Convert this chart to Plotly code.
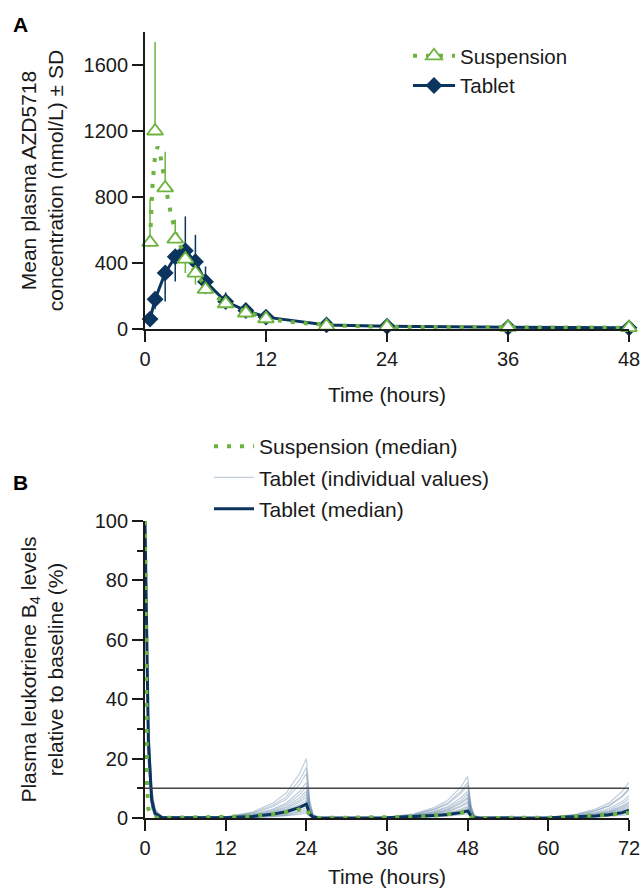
import plotly.graph_objects as go

# ---------------- Panel A data ----------------
pk_time = [0.5, 1, 2, 3, 4, 5, 6, 8, 10, 12, 18, 24, 36, 48]
susp_mean = [525, 1200, 855, 545, 424, 339, 240, 153, 97, 62, 18, 14, 10, 8]
susp_sd_up = [265, 540, 220, 117, 0, 0, 0, 0, 0, 0, 0, 0, 0, 0]
susp_sd_down = [0, 0, 0, 0, 85, 70, 30, 15, 0, 0, 0, 0, 0, 0]
tab_mean = [60, 180, 340, 438, 475, 408, 287, 166, 112, 72, 25, 17, 10, 7]
tab_sd_up = [0, 0, 0, 0, 207, 163, 92, 56, 20, 10, 0, 0, 0, 0]
tab_sd_down = [25, 60, 174, 150, 0, 0, 0, 0, 0, 0, 0, 0, 0, 0]

susp_curve_time = [0.5, 0.6, 0.75, 1, 1.25, 1.5, 1.75, 2, 2.25, 2.5, 2.75, 3, 3.5, 4, 5, 6, 7, 8,
                   9.5, 11, 12, 13.3, 14.5, 16, 18, 20, 22, 24, 30, 36, 42, 48]
susp_curve = [540, 700, 880, 1050, 1105, 1060, 960, 870, 795, 720, 645, 590, 505, 445, 340, 260, 195, 160,
              117, 86, 72, 52, 42, 33, 25, 19, 15, 13, 11, 10, 9, 8]

# ---------------- Panel B data ----------------
pd_time = [0, 0.25, 0.5, 1, 1.5, 2.5, 12, 16, 19, 21, 23, 24, 24.5, 25, 26,
           36, 40, 43, 45, 47, 48, 48.5, 49, 50, 60, 64, 67, 69, 71, 72]

tablet_individuals = [
    [100, 68, 35, 10, 3, 0.5, 0.4, 2, 5, 8.4, 15, 20, 6, 1.2, 0.1, 0.3, 1.4, 3.5, 5.9, 10.5, 14, 4.2, 0.8, 0.1, 0.2, 1.2, 3, 5, 9, 12],
    [100, 66, 33, 9, 2.6, 0.4, 0.3, 1.7, 4.3, 7.1, 12.8, 17, 5.1, 1, 0.1, 0.2, 1.2, 3, 5, 9, 12, 3.6, 0.7, 0.1, 0.2, 1, 2.5, 4.2, 7.5, 10],
    [100, 65, 31, 8, 2.3, 0.3, 0.3, 1.5, 3.8, 6.3, 11.3, 15, 4.5, 0.9, 0.1, 0.2, 1.1, 2.8, 4.6, 8.3, 11, 3.3, 0.7, 0.1, 0.2, 1, 2.4, 4, 7.1, 9.5],
    [100, 63, 29, 7.5, 2, 0.3, 0.2, 1.2, 3, 5, 9, 12, 3.6, 0.7, 0.1, 0.2, 0.9, 2.3, 3.8, 6.8, 9, 2.7, 0.5, 0, 0.2, 0.8, 1.9, 3.2, 5.6, 7.5],
    [100, 62, 28, 7, 1.8, 0.2, 0.2, 1.1, 2.6, 4.4, 7.9, 10.5, 3.2, 0.6, 0, 0.2, 0.8, 2, 3.4, 6, 8, 2.4, 0.5, 0, 0.1, 0.7, 1.6, 2.7, 4.9, 6.5],
    [100, 61, 27, 6.5, 1.6, 0.2, 0.2, 0.9, 2.3, 3.8, 6.8, 9, 2.7, 0.5, 0, 0.1, 0.7, 1.8, 2.9, 5.3, 7, 2.1, 0.4, 0, 0.1, 0.6, 1.4, 2.3, 4.1, 5.5],
    [100, 60, 26, 6, 1.5, 0.2, 0.2, 0.8, 2, 3.4, 6, 8, 2.4, 0.5, 0, 0.1, 0.7, 1.6, 2.7, 4.9, 6.5, 2, 0.4, 0, 0.1, 0.5, 1.3, 2.1, 3.8, 5],
    [100, 59, 25, 5.5, 1.4, 0.2, 0.1, 0.7, 1.8, 2.9, 5.3, 7, 2.1, 0.4, 0, 0.1, 0.6, 1.4, 2.3, 4.1, 5.5, 1.7, 0.3, 0, 0.1, 0.5, 1.1, 1.9, 3.4, 4.5],
    [100, 58, 24, 5, 1.3, 0.1, 0.1, 0.6, 1.5, 2.5, 4.5, 6, 1.8, 0.4, 0, 0.1, 0.5, 1.3, 2.1, 3.8, 5, 1.5, 0.3, 0, 0.1, 0.4, 1, 1.7, 3, 4],
    [100, 57, 23, 4.5, 1.2, 0.1, 0.1, 0.5, 1.3, 2.1, 3.8, 5, 1.5, 0.3, 0, 0.1, 0.4, 1, 1.7, 3, 4, 1.2, 0.2, 0, 0.1, 0.4, 0.9, 1.5, 2.6, 3.5],
    [100, 56, 22, 4.2, 1.1, 0.1, 0.1, 0.4, 1.1, 1.8, 3.2, 4.2, 1.3, 0.3, 0, 0.1, 0.4, 0.9, 1.5, 2.6, 3.5, 1.1, 0.2, 0, 0.1, 0.3, 0.8, 1.3, 2.3, 3],
    [100, 55, 21, 4, 1, 0.1, 0.1, 0.4, 0.9, 1.5, 2.6, 3.5, 1.1, 0.2, 0, 0.1, 0.3, 0.8, 1.3, 2.3, 3, 0.9, 0.2, 0, 0.1, 0.3, 0.6, 1.1, 1.9, 2.5],
    [100, 54, 20, 3.8, 0.9, 0.1, 0.1, 0.3, 0.7, 1.2, 2.1, 2.8, 0.8, 0.2, 0, 0, 0.3, 0.6, 1.1, 1.9, 2.5, 0.8, 0.2, 0, 0, 0.2, 0.5, 0.8, 1.5, 2],
    [100, 53, 19, 3.5, 0.8, 0.1, 0, 0.2, 0.6, 0.9, 1.7, 2.2, 0.7, 0.1, 0, 0, 0.2, 0.5, 0.8, 1.5, 2, 0.6, 0.1, 0, 0, 0.2, 0.5, 0.8, 1.4, 1.8],
    [100, 52, 18, 3.2, 0.7, 0.1, 0, 0.2, 0.4, 0.7, 1.2, 1.6, 0.5, 0.1, 0, 0, 0.1, 0.4, 0.6, 1.1, 1.4, 0.4, 0.1, 0, 0, 0.1, 0.3, 0.5, 0.9, 1.2],
]
tablet_median = [100, 60, 26, 6, 1.5, 0.2, 0.1, 0.5, 1.3, 2.1, 3.6, 4.7, 1.4, 0.3, 0,
                 0.1, 0.4, 0.8, 1.2, 1.8, 2.4, 0.7, 0.1, 0, 0.1, 0.3, 0.7, 1.1, 1.8, 2.6]

susp_pd_time = [0, 0.1, 0.2, 0.3, 0.5, 1, 2, 12, 14.4, 16.3, 18.2, 20, 22, 23, 24, 24.5, 25, 26,
                36, 40, 43, 45, 47, 48, 48.5, 49, 50, 60, 64, 67, 69, 71, 72]
susp_median = [100, 70, 35, 12, 3, 0.5, 0, 0.2, 0.5, 0.7, 1.0, 1.6, 2.4, 2.9, 3.4, 1, 0.2, 0,
               0.1, 0.4, 0.8, 1.2, 1.8, 2.2, 0.6, 0.1, 0, 0.1, 0.4, 0.8, 1.1, 1.5, 1.8]
threshold = 10

# ---------------- Styling ----------------
GREEN = "#6db33f"
NAVY = "#0b355e"
IND = "rgba(70,110,150,0.33)"
INK = "#1a1a1a"
FONT = "Arial, Liberation Sans, sans-serif"
DOTS = "4px,9px"

W, H = 643, 888
L, R, T, B = 145, 14, 32, 70
PW, PH = W - L - R, H - T - B


def px(xs, ys):
    """screen pixel -> paper coords"""
    return (xs - L) / PW, (H - B - ys) / PH


TRI = dict(symbol="triangle-up", size=14, color="white", line=dict(width=1.8, color=GREEN))

fig = go.Figure()

# ---- Panel A traces (tablet under suspension) ----
fig.add_trace(go.Scatter(
    x=pk_time, y=tab_mean, mode="lines+markers", name="Tablet",
    line=dict(color=NAVY, width=3),
    marker=dict(symbol="diamond", size=13, color=NAVY),
    error_y=dict(type="data", symmetric=False, array=tab_sd_up, arrayminus=tab_sd_down,
                 color=NAVY, thickness=1.5, width=0),
    xaxis="x", yaxis="y", legend="legend", legendgroup="tab", legendrank=2, cliponaxis=False))
fig.add_trace(go.Scatter(
    x=susp_curve_time, y=susp_curve, mode="lines", showlegend=False,
    line=dict(color=GREEN, width=4, dash=DOTS), xaxis="x", yaxis="y", cliponaxis=False))
fig.add_trace(go.Scatter(
    x=pk_time, y=susp_mean, mode="markers", showlegend=False, marker=TRI,
    error_y=dict(type="data", symmetric=False, array=susp_sd_up, arrayminus=susp_sd_down,
                 color=GREEN, thickness=1.5, width=0),
    xaxis="x", yaxis="y", cliponaxis=False))
fig.add_trace(go.Scatter(
    x=[None], y=[None], mode="lines+markers", name="Suspension",
    line=dict(color=GREEN, width=4, dash=DOTS), marker=TRI,
    xaxis="x", yaxis="y", legend="legend", legendgroup="susp", legendrank=1))

# ---- Panel B traces ----
for i, vals in enumerate(tablet_individuals):
    fig.add_trace(go.Scatter(
        x=pd_time, y=vals, mode="lines", name="Tablet (individual values)",
        line=dict(color=IND, width=1.2), showlegend=(i == 0),
        legendgroup="ind", legendrank=2, legend="legend2", xaxis="x2", yaxis="y2", cliponaxis=False))
fig.add_trace(go.Scatter(
    x=pd_time, y=tablet_median, mode="lines", name="Tablet (median)",
    line=dict(color=NAVY, width=3), legendgroup="tmed", legendrank=3, legend="legend2",
    xaxis="x2", yaxis="y2", cliponaxis=False))
fig.add_trace(go.Scatter(
    x=susp_pd_time, y=susp_median, mode="lines", name="Suspension (median)",
    line=dict(color=GREEN, width=4, dash=DOTS), legendgroup="smed", legendrank=1, legend="legend2",
    xaxis="x2", yaxis="y2", cliponaxis=False))

fig.add_shape(type="line", xref="x2", yref="y2", x0=0, x1=72, y0=threshold, y1=threshold,
              line=dict(color="#444444", width=1.5))

axis_common = dict(showline=True, linecolor=INK, linewidth=1.8, ticks="outside", ticklen=11,
                   tickwidth=1.8, tickcolor=INK, showgrid=False, zeroline=False,
                   tickfont=dict(size=20, color=INK, family=FONT), automargin=False)

yA_bottom = px(0, 329)[1]
yB_top = px(0, 521)[1]
legA_x, legA_y = px(408, 36)
legB_x, legB_y = px(209, 426)
labA = px(20, 25)
labB = px(20, 483)

fig.update_layout(
    width=W, height=H,
    margin=dict(l=L, r=R, t=T, b=B),
    paper_bgcolor="white", plot_bgcolor="white",
    font=dict(family=FONT, size=20, color=INK),
    xaxis=dict(domain=[0, 1], range=[0, 48], tickvals=[0, 12, 24, 36, 48], anchor="y",
               title=dict(text="Time (hours)", font=dict(size=21), standoff=18), **axis_common),
    yaxis=dict(domain=[yA_bottom, 1], range=[0, 1800],
               tickvals=[0, 400, 800, 1200, 1600], anchor="x",
               title=dict(text="Mean plasma AZD5718<br>concentration (nmol/L) ± SD",
                          font=dict(size=21), standoff=14), **axis_common),
    xaxis2=dict(domain=[0, 1], range=[0, 72], tickvals=[0, 12, 24, 36, 48, 60, 72], anchor="y2",
                title=dict(text="Time (hours)", font=dict(size=21), standoff=28), **axis_common),
    yaxis2=dict(domain=[0, yB_top], range=[0, 100],
                tickvals=[0, 20, 40, 60, 80, 100], anchor="x2",
                minor=dict(tickvals=[10, 30, 50, 70, 90], ticks="outside", ticklen=6,
                           tickwidth=1.8, tickcolor=INK),
                title=dict(text="Plasma leukotriene B<sub>4</sub> levels<br>relative to baseline (%)",
                           font=dict(size=21), standoff=25), **axis_common),
    legend=dict(x=legA_x, y=legA_y, xanchor="left", yanchor="top", itemwidth=42,
                traceorder="grouped", tracegroupgap=0, bgcolor="rgba(0,0,0,0)",
                font=dict(size=20.5, color=INK, family=FONT)),
    legend2=dict(x=legB_x, y=legB_y, xanchor="left", yanchor="top", itemwidth=40,
                 traceorder="grouped", tracegroupgap=1, bgcolor="rgba(0,0,0,0)",
                 font=dict(size=21, color=INK, family=FONT)),
    annotations=[
        dict(text="<b>A</b>", x=labA[0], y=labA[1], xref="paper", yref="paper", showarrow=False,
             xanchor="center", yanchor="middle", font=dict(size=21, color="black")),
        dict(text="<b>B</b>", x=labB[0], y=labB[1], xref="paper", yref="paper", showarrow=False,
             xanchor="center", yanchor="middle", font=dict(size=21, color="black")),
    ],
)

# remove the default page margin so the figure fills the 643x888 window exactly
fig.write_html("out.html", config={"displayModeBar": False},
               post_script="document.body.style.margin='0';document.body.style.overflow='hidden';")
